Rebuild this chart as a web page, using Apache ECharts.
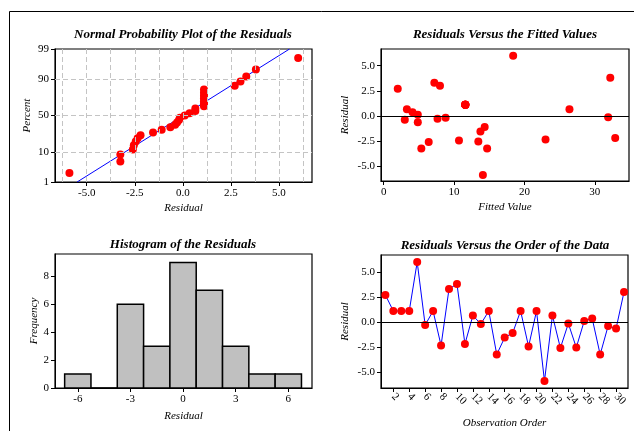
<!DOCTYPE html>
<html>
<head>
<meta charset="utf-8">
<script src="https://cdn.jsdelivr.net/npm/echarts@6/dist/echarts.min.js"></script>
<style>
  html, body { margin: 0; padding: 0; background: #fff; }
  #chart { width: 634px; height: 431px; }
</style>
</head>
<body>
<div id="chart"></div>
<script>
// Residuals in observation order
const residuals = [2.7, 1.1, 1.1, 1.1, 6.0, -0.3, 1.1, -2.35, 3.3, 3.8,
  -2.2, 0.65, -0.2, 1.1, -3.25, -1.55, -1.1, 1.1, -2.45, 1.1,
  -5.9, 0.65, -2.6, -0.15, -2.55, 0.1, 0.35, -3.25, -0.4, -0.65, 3.0];

// Fitted values in observation order
const fittedValues = [2.0, 11.6, 11.6, 11.6, 18.4, 7.65, 11.6, 23.0, 7.2, 32.2,
  32.9, 26.4, 8.8, 11.6, 5.35, 13.75, 14.35, 11.6, 10.7, 11.6,
  14.1, 3.3, 6.4, 31.9, 13.45, 4.85, 4.1, 14.7, 3.0, 4.85, 8.0];

// Cumulative percent for the ranked residuals (normal probability plot)
const rankPercent = [2.23, 5.41, 8.60, 11.78, 14.97, 18.15, 21.34, 24.52, 27.71, 30.89,
  34.08, 37.26, 40.45, 43.63, 46.82, 50.00, 53.18, 56.37, 59.55, 62.74,
  65.92, 69.11, 72.29, 75.48, 78.66, 81.85, 85.03, 88.22, 91.40, 94.59, 97.77];

// Reference line of the probability plot
const fitLineResidual = [-5.5, 5.55];
const fitLinePercent = [1, 99];

// Histogram bins
const binCenters = [-6, -4.5, -3, -1.5, 0, 1.5, 3, 4.5, 6];
const binCounts = [1, 0, 6, 3, 9, 7, 3, 1, 1];
const binWidth = 1.5;

// Tick labels
const percentTicks = [1, 10, 50, 90, 99];
const percentGrid = [10, 50, 90];
const probResidualTicks = [-5, -2.5, 0, 2.5, 5];
const probResidualGrid = [-6.25, -5, -3.75, -2.5, -1.25, 0, 1.25, 2.5, 3.75, 5, 6.25];
const fittedTicks = [0, 10, 20, 30];
const residualTicks = [-5, -2.5, 0, 2.5, 5];
const histTicks = [-6, -3, 0, 3, 6];
const freqTicks = [0, 2, 4, 6, 8];
const orderTicks = [2, 4, 6, 8, 10, 12, 14, 16, 18, 20, 22, 24, 26, 28, 30];

// Inverse standard normal CDF (Acklam) for the probability scale
function normInv(p) {
  const a = [-39.6968302866538, 220.946098424521, -275.928510446969, 138.357751867269, -30.6647980661472, 2.50662827745924];
  const b = [-54.4760987982241, 161.585836858041, -155.698979859887, 66.8013118877197, -13.2806815528857];
  const c = [-0.00778489400243029, -0.322396458041136, -2.40075827716184, -2.54973253934373, 4.37466414146497, 2.93816398269878];
  const d = [0.00778469570904146, 0.32246712907004, 2.445134137143, 3.75440866190742];
  const pl = 0.02425;
  let q, r;
  if (p < pl) {
    q = Math.sqrt(-2 * Math.log(p));
    return (((((c[0]*q+c[1])*q+c[2])*q+c[3])*q+c[4])*q+c[5]) / ((((d[0]*q+d[1])*q+d[2])*q+d[3])*q+1);
  }
  if (p <= 1 - pl) {
    q = p - 0.5; r = q * q;
    return (((((a[0]*r+a[1])*r+a[2])*r+a[3])*r+a[4])*r+a[5])*q / (((((b[0]*r+b[1])*r+b[2])*r+b[3])*r+b[4])*r+1);
  }
  q = Math.sqrt(-2 * Math.log(1 - p));
  return -(((((c[0]*q+c[1])*q+c[2])*q+c[3])*q+c[4])*q+c[5]) / ((((d[0]*q+d[1])*q+d[2])*q+d[3])*q+1);
}
const zOf = pct => normInv(pct / 100);

const SERIF = '"Liberation Serif", "DejaVu Serif", serif';
const labelStyle = { fontFamily: SERIF, fontSize: 11, color: '#000' };
const nameStyle = { fontFamily: SERIF, fontSize: 11, fontStyle: 'italic', color: '#000' };
const titleStyle = { fontFamily: SERIF, fontSize: 13, fontWeight: 'bold', fontStyle: 'italic', color: '#000' };

function axis(opts) {
  return Object.assign({
    type: 'value',
    axisLine: { show: true, onZero: false, lineStyle: { color: '#000', width: 1 } },
    axisTick: { show: true, length: 4, lineStyle: { color: '#000' }, customValues: opts.ticks },
    axisLabel: Object.assign({ customValues: opts.ticks, margin: 6, formatter: opts.fmt }, labelStyle, opts.label || {}),
    splitLine: { show: false },
    nameLocation: 'middle',
    nameTextStyle: nameStyle
  }, opts.base);
}

const sortedResiduals = residuals.slice().sort((a, b) => a - b);
const zTicks = percentTicks.map(zOf);
const percentLabel = v => {
  let best = 0;
  zTicks.forEach((z, i) => { if (Math.abs(z - v) < Math.abs(zTicks[best] - v)) best = i; });
  return String(percentTicks[best]);
};
const oneDec = v => v.toFixed(1);

const gridLine = { color: '#c4c4c4', width: 1, type: [5, 3] };
const noMarkLine = { silent: true, symbol: 'none', label: { show: false }, animation: false };
const redDot = { color: '#ff0000', opacity: 1 };

const option = {
  animation: false,
  backgroundColor: '#fff',
  title: [
    { text: 'Normal Probability Plot of the Residuals', left: 183, top: 28, textAlign: 'center', textStyle: titleStyle, padding: 0 },
    { text: 'Residuals Versus the Fitted Values', left: 505, top: 28, textAlign: 'center', textStyle: titleStyle, padding: 0 },
    { text: 'Histogram of the Residuals', left: 183, top: 238, textAlign: 'center', textStyle: titleStyle, padding: 0 },
    { text: 'Residuals Versus the Order of the Data', left: 505, top: 239, textAlign: 'center', textStyle: titleStyle, padding: 0 }
  ],
  grid: [
    { left: 55, top: 49, width: 257, height: 133, show: true, borderColor: '#000', borderWidth: 1.2 },
    { left: 381, top: 49, width: 248, height: 132, show: true, borderColor: '#000', borderWidth: 1.2 },
    { left: 55, top: 254, width: 257, height: 134, show: true, borderColor: '#000', borderWidth: 1.2 },
    { left: 381, top: 255, width: 247, height: 133, show: true, borderColor: '#000', borderWidth: 1.2 }
  ],
  xAxis: [
    axis({ ticks: probResidualTicks, fmt: oneDec, base: { gridIndex: 0, min: -6.65, max: 6.72, name: 'Residual', nameGap: 21 } }),
    axis({ ticks: fittedTicks, fmt: v => String(v), base: { gridIndex: 1, min: -0.38, max: 34.86, name: 'Fitted Value', nameGap: 21 } }),
    axis({ ticks: histTicks, fmt: v => String(v), base: { gridIndex: 2, min: -7.3, max: 7.35, name: 'Residual', nameGap: 23 } }),
    axis({ ticks: orderTicks, fmt: v => String(v), label: { rotate: -45, margin: 7 },
      base: { gridIndex: 3, min: 0.45, max: 31.5, name: 'Observation Order', nameGap: 30 } })
  ],
  yAxis: [
    axis({ ticks: zTicks, fmt: percentLabel, base: { gridIndex: 0, min: zOf(1), max: zOf(99), name: 'Percent', nameGap: 22 } }),
    axis({ ticks: residualTicks, fmt: oneDec, base: { gridIndex: 1, min: -6.5, max: 6.67, name: 'Residual', nameGap: 30 } }),
    axis({ ticks: freqTicks, fmt: v => String(v), base: { gridIndex: 2, min: 0, max: 9.6, name: 'Frequency', nameGap: 15 } }),
    axis({ ticks: residualTicks, fmt: oneDec, base: { gridIndex: 3, min: -6.6, max: 6.7, name: 'Residual', nameGap: 30 } })
  ],
  series: [
    {
      // dashed reference grid of the probability plot
      type: 'scatter', xAxisIndex: 0, yAxisIndex: 0, data: [], z: 1,
      markLine: Object.assign({
        lineStyle: gridLine,
        data: probResidualGrid.map(v => ({ xAxis: v })).concat(percentGrid.map(p => ({ yAxis: zOf(p) })))
      }, noMarkLine)
    },
    {
      type: 'line', xAxisIndex: 0, yAxisIndex: 0, z: 2, showSymbol: false, symbol: 'none',
      lineStyle: { color: '#0000ff', width: 1 },
      data: fitLineResidual.map((r, i) => [r, zOf(fitLinePercent[i])])
    },
    {
      type: 'scatter', xAxisIndex: 0, yAxisIndex: 0, z: 3, symbolSize: 8,
      itemStyle: redDot,
      data: sortedResiduals.map((r, i) => [r, zOf(rankPercent[i])])
    },
    {
      type: 'scatter', xAxisIndex: 1, yAxisIndex: 1, z: 3, symbolSize: 8,
      itemStyle: redDot,
      data: fittedValues.map((f, i) => [f, residuals[i]]),
      markLine: Object.assign({ lineStyle: { color: '#000', width: 1, type: 'solid' }, data: [{ yAxis: 0 }] }, noMarkLine)
    },
    {
      type: 'custom', xAxisIndex: 2, yAxisIndex: 2, z: 3,
      data: binCenters.map((c, i) => [c, binCounts[i]]),
      renderItem: (params, api) => {
        const c = api.value(0), n = api.value(1);
        const p0 = api.coord([c - binWidth / 2, n]);
        const p1 = api.coord([c + binWidth / 2, 0]);
        return {
          type: 'rect',
          shape: { x: p0[0], y: p0[1], width: p1[0] - p0[0], height: p1[1] - p0[1] },
          style: { fill: '#c0c0c0', stroke: '#000', lineWidth: 1.5 }
        };
      }
    },
    {
      type: 'line', xAxisIndex: 3, yAxisIndex: 3, z: 3,
      symbol: 'circle', symbolSize: 8, showAllSymbol: true,
      lineStyle: { color: '#0000ff', width: 1 },
      itemStyle: redDot,
      data: residuals.map((r, i) => [i + 1, r]),
      markLine: Object.assign({ lineStyle: { color: '#000', width: 1, type: 'solid' }, data: [{ yAxis: 0 }] }, noMarkLine)
    }
  ],
  graphic: [
    { type: 'line', shape: { x1: 9.5, y1: 11.5, x2: 634, y2: 11.5 }, style: { stroke: '#000', lineWidth: 1 } },
    { type: 'line', shape: { x1: 9.5, y1: 11.5, x2: 9.5, y2: 431 }, style: { stroke: '#000', lineWidth: 1 } }
  ]
};

const chart = echarts.init(document.getElementById('chart'), null, { renderer: 'canvas' });
chart.setOption(option);
</script>
</body>
</html>
